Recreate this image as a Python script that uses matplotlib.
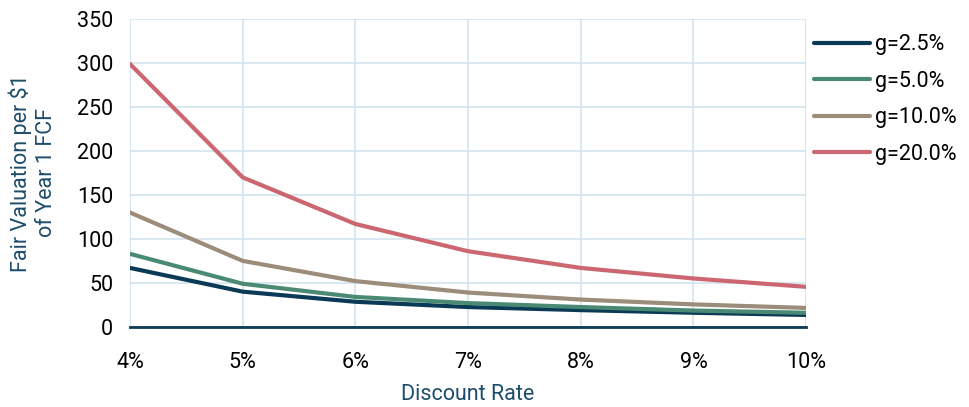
import matplotlib
matplotlib.use('Agg')
import matplotlib.pyplot as plt

plt.rcParams['font.family'] = ['Roboto', 'DejaVu Sans']

# Discount rates (%) and fair value per $1 of year-1 FCF for each growth case
discount_rates = [4, 5, 6, 7, 8, 9, 10]
g_2_5 = [67, 40, 28.5, 22.5, 19, 16, 13.5]
g_5_0 = [83, 49, 34, 27, 22.5, 18.5, 16]
g_10_0 = [130, 75, 52, 39, 31, 25.5, 21.5]
g_20_0 = [299, 170, 117, 86, 67, 55, 45.5]

series_labels = ['g=2.5%', 'g=5.0%', 'g=10.0%', 'g=20.0%']
series_colors = ['#0a3a55', '#4a8a75', '#9c8c7a', '#cc6670']
tick_labels = [f'{r}%' for r in discount_rates]

fig = plt.figure(figsize=(9.7, 4.07), dpi=100)
ax = fig.add_axes([0.134, 0.197, 0.697, 0.756])

for vals, lab, col in zip([g_2_5, g_5_0, g_10_0, g_20_0], series_labels, series_colors):
    ax.plot(discount_rates, vals, color=col, linewidth=3, label=lab,
            solid_capstyle='round', zorder=3)

ax.set_xlim(4, 10)
ax.set_ylim(0, 350)
ax.set_yticks(range(0, 351, 50))
ax.set_xticks(discount_rates)
ax.set_xticklabels(tick_labels)

ax.grid(True, color='#d3e4ef', linewidth=1.2, zorder=0)
for side in ['top', 'right', 'left']:
    ax.spines[side].set_visible(False)
ax.spines['bottom'].set_color('#0a3a55')
ax.spines['bottom'].set_linewidth(2)
ax.spines['bottom'].set_zorder(4)
ax.axvline(4, color='#d3e4ef', linewidth=1.2, zorder=0)
ax.axvline(10, color='#d3e4ef', linewidth=1.2, zorder=0)

ax.tick_params(axis='both', length=0, labelsize=15.5, colors='black')
ax.tick_params(axis='x', pad=18)
ax.tick_params(axis='y', pad=12)

ax.set_xlabel('Discount Rate', fontsize=15.5, color='#1e4d6b', labelpad=8)
ax.set_ylabel('Fair Valuation per $1\nof Year 1 FCF', fontsize=15.5, color='#1e4d6b',
              labelpad=14, linespacing=1.3)

leg = ax.legend(loc='upper left', bbox_to_anchor=(0.99, 1.0), frameon=False,
                fontsize=15.5, handlelength=2.6, handletextpad=0.2,
                labelspacing=0.72, borderaxespad=0.3)
for line in leg.get_lines():
    line.set_linewidth(3)

fig.savefig('out.png', dpi=100)
